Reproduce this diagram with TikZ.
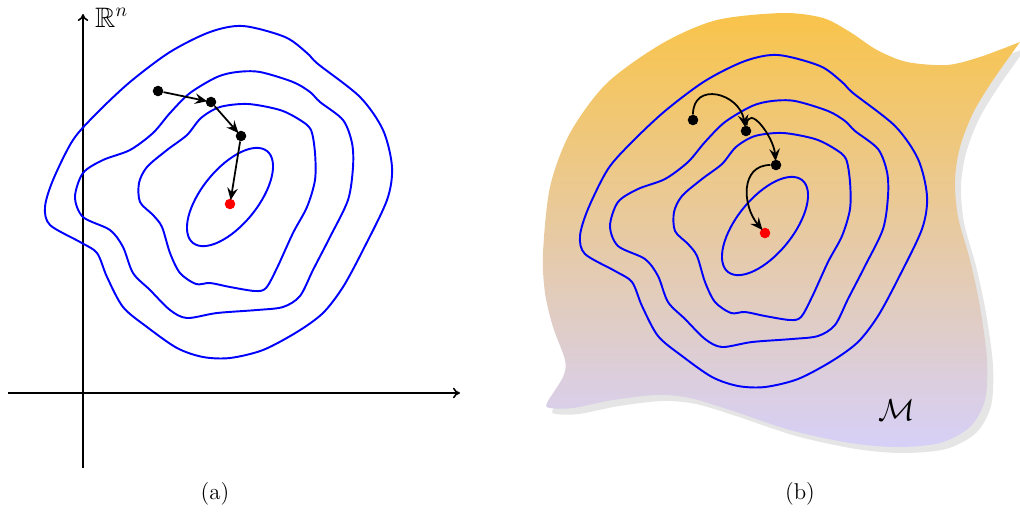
\documentclass[tikz,border=0pt]{standalone}
\usepackage{amsmath,amssymb}
\usepackage{tikz}
\usetikzlibrary{arrows.meta, positioning}
\definecolor{mantop}{RGB}{249,196,74}
\definecolor{manbot}{RGB}{214,208,248}
\definecolor{manshadow}{RGB}{229,229,229}

\begin{document}
\begin{tikzpicture}[
    x=0.02cm, y=-0.02cm,
    contour/.style={draw=blue, line width=1.1pt},
    axis/.style={-{To[length=4pt,width=6pt]}, line width=0.9pt},
    dot/.style={circle, fill=black, inner sep=0pt, minimum size=6pt},
    minimum/.style={dot, fill=red},
    move/.style={-{Stealth[length=7pt,width=6pt,inset=2.5pt]}, line width=1pt, shorten >=-1pt},
    caption/.style={font=\fontsize{13}{15}\selectfont},
    levelsets/.pic={
        \draw[contour, rotate around={51:(230,197)}] (230,197) ellipse [x radius=59, y radius=28];
        \draw[contour] plot[smooth cycle] coordinates {(248,104) (280,110) (300,120) (311,130) (315,153) (315,180) (307,207) (293,233) (277,268) (266,288) (255,291) (230,287) (210,283) (196,284) (180,273) (170,253) (162,227) (153,215) (140,202) (139,183) (147,167) (167,150) (187,135) (201,118) (220,107)};
        \draw[contour] plot[smooth cycle] coordinates {(260,72) (293,82) (310,92) (320,102) (343,120) (352,143) (353,167) (348,200) (330,237) (313,270) (300,296) (283,307) (257,310) (217,313) (187,318) (170,310) (150,290) (133,273) (123,247) (110,230) (83,217) (75,197) (83,173) (103,160) (130,150) (153,133) (170,113) (190,93) (217,77) (237,72)};
        \draw[contour] plot[smooth cycle] coordinates {(243,26) (285,37) (307,53) (318,64) (360,97) (383,130) (392,167) (387,200) (363,250) (343,287) (323,313) (297,332) (263,350) (230,358) (203,357) (177,348) (147,327) (123,307) (107,277) (97,253) (80,242) (50,225) (45,207) (53,180) (73,140) (97,113) (130,82) (170,52) (210,32)};
    }
]
\useasboundingbox (0,0) rectangle (1020,514);

% (a) euclidean space
\coordinate (xstart) at (8,393);
\coordinate (xend) at (460,393);
\coordinate (ystart) at (83,468);
\coordinate (yend) at (83,14);
\draw[axis] (xstart) -- (xend);
\draw[axis] (ystart) -- (yend);
\node[anchor=west, font=\fontsize{16}{18}\selectfont] (rn) at (89,18) {$\mathbb{R}^n$};

\pic at (0,0) {levelsets};

\node[dot] (a0) at (158,91) {};
\node[dot] (a1) at (211,102) {};
\node[dot] (a2) at (241,136) {};
\node[minimum] (amin) at (230,204) {};
\draw[move] (a0) -- (a1);
\draw[move] (a1) -- (a2);
\draw[move] (a2) -- (amin);

\node[caption] (capa) at (215,494) {(a)};

% (b) manifold
\path[preaction={fill=manshadow, transform canvas={shift={(6,6)}}}, top color=mantop, bottom color=manbot]
    (1020,42) -- plot[smooth] coordinates {(1020,42) (993,80) (973,113) (960,147) (955,180) (958,217) (970,260) (980,307) (987,360) (985,400) (970,427) (940,443) (897,447) (850,443) (790,430) (730,410) (690,398) (657,395) (613,400) (573,408) (550,408) (547,403) (563,377) (565,360) (553,327) (545,293) (543,253) (550,187) (570,133) (607,83) (663,43) (717,20) (783,13) (823,18) (850,32) (877,50) (907,62) (947,65) (980,57) (1020,42)} -- cycle;

\pic at (535,29) {levelsets};

\node[dot] (b0) at (693,120) {};
\node[dot] (b1) at (746,131) {};
\node[dot] (b2) at (776,165) {};
\node[minimum] (bmin) at (765,233) {};
\draw[move] (b0) to[out=90, in=100, looseness=1.6] (b1);
\draw[move] (b1) to[out=85, in=95, looseness=1.3] (b2);
\draw[move] (b2) to[out=180, in=130, looseness=1.2] (bmin);

\node[font=\fontsize{18}{20}\selectfont] (mlabel) at (897,410) {$\mathcal{M}$};

\node[caption] (capb) at (800,494) {(b)};
\end{tikzpicture}
\end{document}
